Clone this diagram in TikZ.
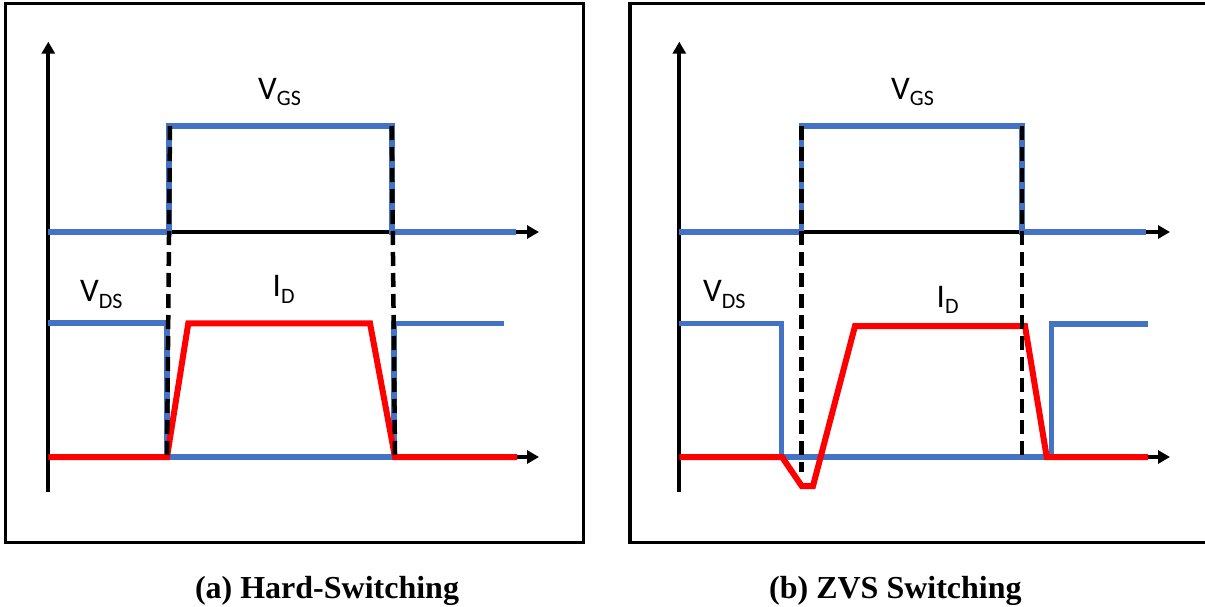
\documentclass[tikz,border=0pt]{standalone}
\usepackage{fontspec}
\setmainfont{Liberation Serif}
\newfontfamily\lblfont{Carlito}
\usetikzlibrary{arrows.meta}

\definecolor{wblue}{HTML}{4472C4}
\definecolor{wred}{HTML}{FF0000}

\tikzstyle{panel} = [line width=3.5pt]
\tikzstyle{axis} = [line width=4pt, -{Triangle[length=12pt,width=13pt]}]
\tikzstyle{vgs} = [wblue, line width=5.5pt]
\tikzstyle{vds} = [wblue, line width=5.5pt]
\tikzstyle{idrain} = [wred, line width=6pt]
\tikzstyle{guide} = [line width=4.5pt, dash pattern=on 14pt off 7pt]
\tikzstyle{siglabel} = [inner sep=0pt, anchor=base west, font=\lblfont]
\tikzstyle{caption} = [inner sep=0pt, anchor=base, font=\fontsize{32}{38}\selectfont\bfseries]

\newcommand{\wlabel}[2]{{\fontsize{33}{40}\selectfont #1}\raisebox{-6.5pt}{\fontsize{22}{26}\selectfont #2}}

\begin{document}
\begin{tikzpicture}[x=1pt, y=-1pt]
\useasboundingbox (0,0) rectangle (1205,606);
\clip (0,0) rectangle (1205,606);

% (a) hard switching
\draw[panel] (5.7,3.3) rectangle (583.3,542.7);
\draw[axis] (48.3,492) -- (48.3,41.7);
\draw[axis] (48.3,232) -- (539,232);
\draw[axis] (48.3,457) -- (539,457);
\draw[vgs] (48.3,232) -- (169,232) -- (169,126) -- (392,126) -- (392,232) -- (515.7,232);
\draw[vds] (48.3,323) -- (167,323) -- (167,457) -- (394,457) -- (394,323.5) -- (504.3,323.5);
\draw[idrain] (48.3,457) -- (167,457) -- (188.3,323.3) -- (370,323.3) -- (395,457) -- (517,457);
\draw[guide] (170,126) -- (167,457);
\draw[guide] (391.7,126) -- (395,457);
\node[siglabel] (vgsa) at (258,99) {\wlabel{V}{GS}};
\node[siglabel] (vdsa) at (80,301.7) {\wlabel{V}{DS}};
\node[siglabel] (ida) at (272.5,296.7) {\wlabel{I}{D}};
\node[caption] (capa) at (327,598) {(a) Hard-Switching};

% (b) ZVS switching
\draw[panel] (630,3.3) rectangle (1210,542.7);
\draw[axis] (679.3,492) -- (679.3,41.7);
\draw[axis] (679.3,232) -- (1170,232);
\draw[axis] (679.3,457) -- (1170,457);
\draw[vgs] (679.3,232) -- (801.7,232) -- (801.7,126) -- (1022,126) -- (1022,232) -- (1146,232);
\draw[vds] (679.3,323.3) -- (781.5,323.3) -- (781.5,457) -- (1051.7,457) -- (1051.7,324) -- (1148,324);
\draw[idrain] (679.3,457) -- (782,457) -- (801.7,486) -- (813,486) -- (855,326) -- (1025,326) -- (1046.7,457) -- (1148,457);
\draw[guide] (801.7,126) -- (801.7,472);
\draw[guide] (1022,126) -- (1022,457);
\node[siglabel] (vgsb) at (891,99) {\wlabel{V}{GS}};
\node[siglabel] (vdsb) at (703,301.7) {\wlabel{V}{DS}};
\node[siglabel] (idb) at (936.5,307) {\wlabel{I}{D}};
\node[caption] (capb) at (895.4,598) {(b) ZVS Switching};
\end{tikzpicture}
\end{document}
